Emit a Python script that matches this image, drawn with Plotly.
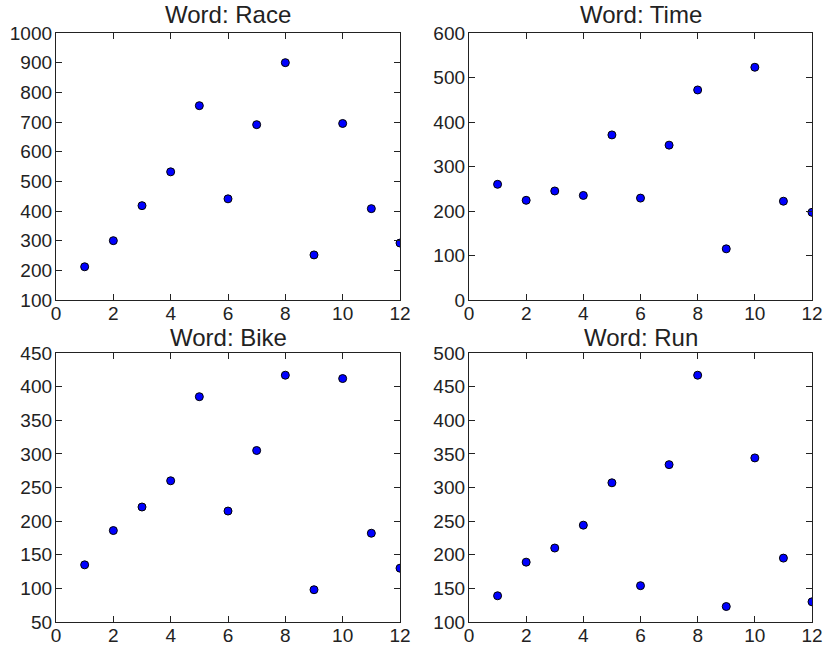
import plotly.graph_objects as go

months = [1, 2, 3, 4, 5, 6, 7, 8, 9, 10, 11, 12]
race = [212, 300, 418, 532, 755, 441, 691, 900, 252, 695, 408, 292]
time_ = [260, 224, 245, 235, 371, 229, 348, 472, 115, 523, 222, 197]
bike = [135, 186, 221, 260, 385, 215, 305, 417, 98, 412, 182, 130]
run = [139, 189, 210, 244, 307, 154, 334, 467, 123, 344, 195, 130]

titles = ["Word: Race", "Word: Time", "Word: Bike", "Word: Run"]
series = [race, time_, bike, run]
y_ranges = [[100, 1000], [0, 600], [50, 450], [100, 500]]
y_dticks = [100, 100, 50, 50]
x_range = [0, 12]
x_dtick = 2

W, H = 823, 650
# pixel boxes (left, right, top, bottom) and title gap
boxes = [(56, 400, 33, 300), (469, 812, 33, 300), (56, 400, 353, 622), (469, 812, 353, 622)]
title_gaps = [3, 3, 0, 0]

fig = go.Figure()
layout = dict(
    width=W, height=H, autosize=False,
    margin=dict(l=0, r=0, t=0, b=0, pad=0, autoexpand=False),
    paper_bgcolor="white", plot_bgcolor="white",
    showlegend=False,
    font=dict(family="Liberation Sans, Arial, sans-serif", size=19, color="#222"),
)
annotations = []
for i, (ys, ttl, yr, yd, box, gap) in enumerate(zip(series, titles, y_ranges, y_dticks, boxes, title_gaps)):
    n = "" if i == 0 else str(i + 1)
    l, r, t, b = box
    fig.add_trace(go.Scatter(
        x=months, y=ys, mode="markers",
        marker=dict(color="#0000ff", size=8, line=dict(color="black", width=1)),
        xaxis="x" + n, yaxis="y" + n,
    ))
    axis_common = dict(
        showgrid=False, zeroline=False, showline=True, linecolor="#222", linewidth=1.3,
        mirror="ticks", ticks="inside", ticklen=6, tickwidth=1, tickcolor="#222",
        tickfont=dict(size=19, color="#222"), automargin=False,
    )
    layout["xaxis" + n] = dict(
        domain=[l / W, r / W], range=x_range, dtick=x_dtick, tick0=0,
        anchor="y" + n, ticklabelstandoff=-4, **axis_common,
    )
    layout["yaxis" + n] = dict(
        domain=[1 - b / H, 1 - t / H], range=yr, dtick=yd, tick0=0,
        anchor="x" + n, ticklabelstandoff=-1, **axis_common,
    )
    annotations.append(dict(
        text=ttl, x=(l + r) / 2 / W, y=1 - (t - gap) / H, xref="paper", yref="paper",
        xanchor="center", yanchor="bottom", showarrow=False,
        font=dict(size=24, color="#222"),
    ))
layout["annotations"] = annotations
fig.update_layout(**layout)
fig.write_html(
    "out.html",
    config={"displayModeBar": False, "responsive": False},
    post_script="document.body.style.margin='0px';document.body.style.overflow='hidden';",
)
